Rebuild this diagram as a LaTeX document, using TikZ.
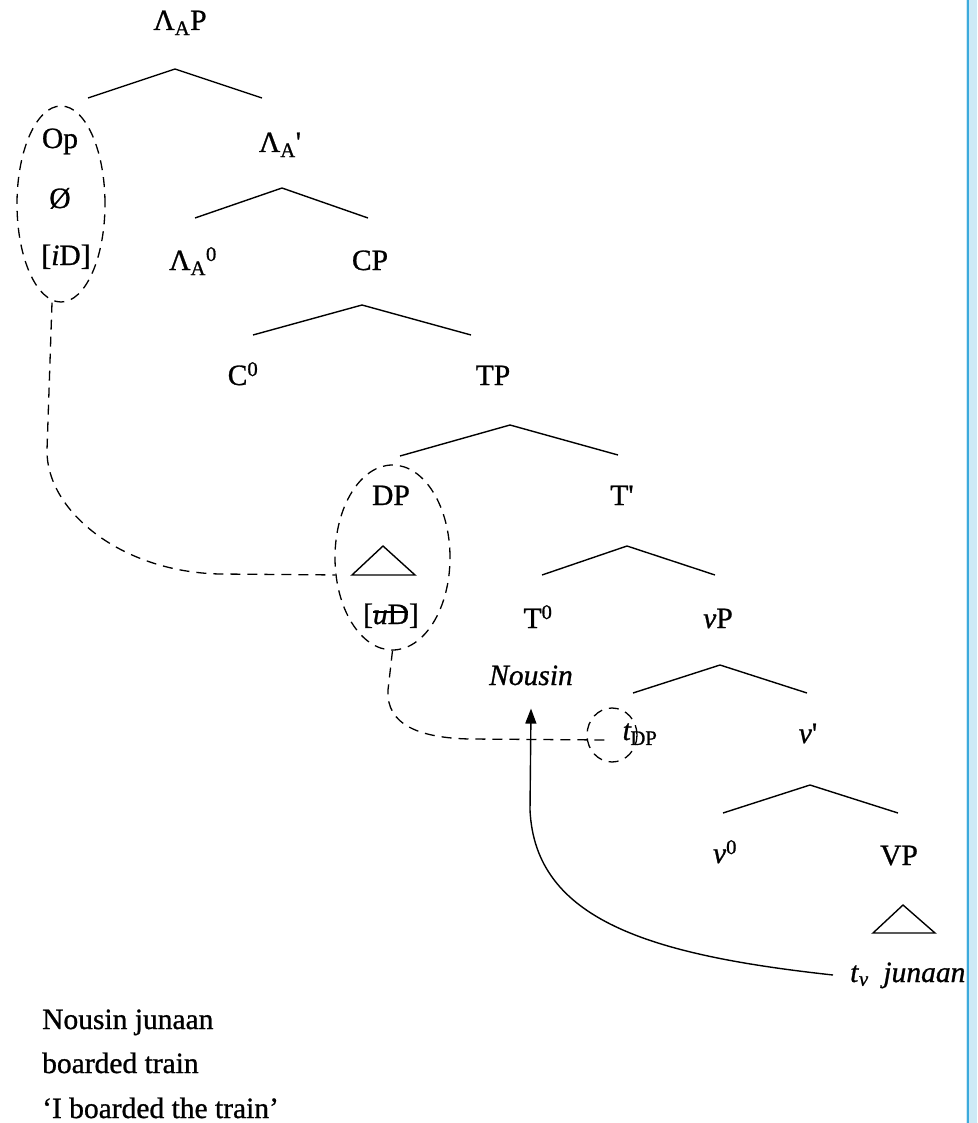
\documentclass[tikz,border=0pt]{standalone}
\usepackage{fontspec}
\setmainfont{Liberation Serif}[
  BoldFont={Liberation Serif},
  BoldItalicFont={Liberation Serif Italic},
  BoldFeatures={FakeBold=0.9},
  BoldItalicFeatures={FakeBold=0.9}]
\usetikzlibrary{arrows.meta,shapes.geometric}
\definecolor{stripblue}{RGB}{205,234,246}
\definecolor{stripline}{RGB}{60,170,220}
\begin{document}
\begin{tikzpicture}[x=1pt,y=-1pt,
  every node/.style={font=\fontsize{29.5}{35}\selectfont\bfseries, inner sep=0pt, anchor=base},
  branch/.style={line width=1.4pt},
  dashlink/.style={dash pattern=on 10pt off 7pt, line width=1.3pt},
  ring/.style={draw, ellipse, dashlink, anchor=center, inner sep=0pt}]
\useasboundingbox (0,0) rectangle (977,1123);
% scan strip at right edge
\fill[stripblue] (966,0) rectangle (977,1123);
\draw[stripline, line width=1.2pt] (968,0) -- (968,1123);

% labels
\node (lap) at (180,30) {Λ\textsubscript{A}P};
\node (op) at (60,148) {Op};
\node (empty) at (60,208) {Ø};
\node (iD) at (66,265) {[\textit{i}D]};
\node (lab) at (280,152) {Λ\textsubscript{A}\textquotesingle};
\node (lazero) at (193,270) {Λ\textsubscript{A}\textsuperscript{0}};
\node (cp) at (370,270) {CP};
\node (czero) at (243,385) {C\textsuperscript{0}};
\node (tp) at (493,385) {TP};
\node (dp) at (391,505) {DP};
\node (tbar) at (622,505) {T\textquotesingle};
\node (uD) at (391,624) {[\textit{u}D]};
\node (tzero) at (538,628) {T\textsuperscript{0}};
\node (vp) at (718,628) {\textit{v}P};
\node (nousin) at (531,685) {\textit{Nousin}};
\node (tdp) at (640,740) {\textit{t}\kern-1pt\textsubscript{DP}};
\node (vbar) at (808,743) {\textit{v}\textquotesingle};
\node (vzero) at (725,863) {\textit{v}\textsuperscript{0}};
\node (bigvp) at (899,865) {VP};
\node[anchor=base west] (tv) at (850,982) {\textit{t}\textsubscript{\textit{v}}\enspace\textit{junaan}};

\node[anchor=base west] (gl1) at (42,1029) {Nousin junaan};
\node[anchor=base west] (gl2) at (42,1073) {boarded train};
\node[anchor=base west] (gl3) at (42,1118) {`I boarded the train'};

% branches
\draw[branch] (88,98) -- (175,69) -- (262,98);
\draw[branch] (195,218) -- (282,188) -- (368,218);
\draw[branch] (253,335) -- (362,305) -- (471,335);
\draw[branch] (400,456) -- (510,425) -- (618,455);
\draw[branch] (542,575) -- (627,546) -- (715,575);
\draw[branch] (633,693) -- (720,665) -- (807,693);
\draw[branch] (723,813) -- (810,785) -- (898,813);
% triangles
\draw[branch] (352,575) -- (383,546) -- (415,575) -- cycle;
\draw[branch] (873,933) -- (903,905) -- (935,933) -- cycle;
% strike-through on uD
\draw[line width=1.4pt] (373,612) -- (408,612);

% dashed rings
\node[ring, minimum width=88pt, minimum height=196pt] (opring) at (61,204) {};
\node[ring, minimum width=115pt, minimum height=185pt] (dpring) at (392.5,557.5) {};
\node[ring, minimum width=50pt, minimum height=54pt] (tring) at (612,735) {};
\coordinate (tend) at (606,740);

% dashed links
\draw[dashlink] ([xshift=-9pt]opring.south) -- (47,450)
  .. controls (46,510) and (120,572) .. (220,574) -- (dpring.197);
\draw[dashlink] (dpring.south) -- (388,690)
  .. controls (386,725) and (420,738) .. (470,739) -- (tend);

% head movement arrow
\coordinate (tvstart) at (833,975);
\draw[line width=1.4pt, -{Triangle[length=15pt,width=11pt]}] (tvstart)
  .. controls (650,955) and (535,920) .. (530,810) -- ([yshift=-23pt]nousin.south);
\end{tikzpicture}
\end{document}
